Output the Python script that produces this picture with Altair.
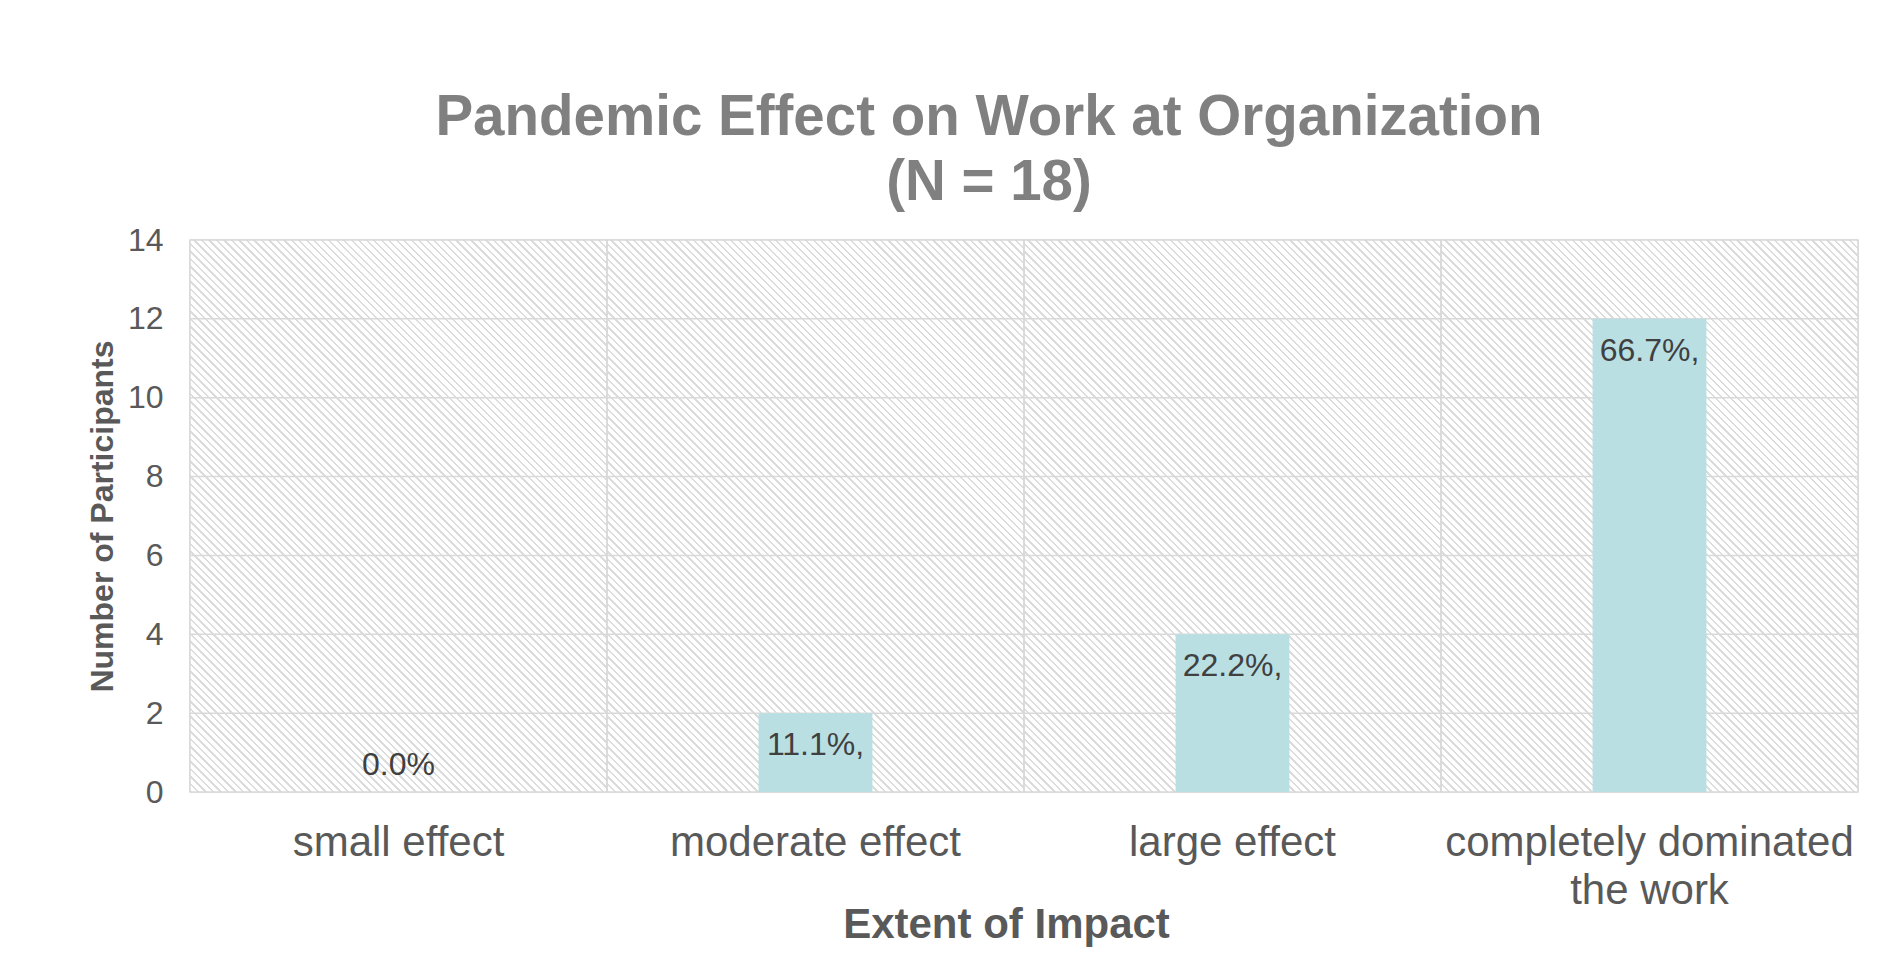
import altair as alt
import pandas as pd

# ---- data ----
categories = ["small effect", "moderate effect", "large effect", "completely dominated the work"]
counts = [0, 2, 4, 12]
pct_labels = ["0.0%", "11.1%,", "22.2%,", "66.7%,"]
y_ticks = [0, 2, 4, 6, 8, 10, 12, 14]
title_lines = ["Pandemic Effect on Work at Organization", "(N = 18)"]

df = pd.DataFrame({"category": categories, "count": counts, "label": pct_labels})
ticks_df = pd.DataFrame({"tick": y_ticks})

FONT = "Liberation Sans"
GRID = "#d9d9d9"
AXIS_TXT = "#595959"
HATCH = "#dcdcdc"

W, H = 1668, 552

# ---- diagonal hatch (style only): a striped linear gradient per category band ----
band_w = W / len(categories)
ratio = H / band_w
a = (1 + ratio) / (1 + ratio ** 2)
span = (band_w + H) / 2 ** 0.5
period = 5.3
stripe = 1.7
stops = []
k = 0
while k * period < span:
    s = k * period / span
    e = min((k * period + stripe) / span, 1.0)
    stops += [
        alt.GradientStop(offset=s, color="#ffffff"),
        alt.GradientStop(offset=s, color=HATCH),
        alt.GradientStop(offset=e, color=HATCH),
        alt.GradientStop(offset=e, color="#ffffff"),
    ]
    k += 1
hatch_fill = alt.LinearGradient(gradient="linear", x1=0, y1=1, x2=a, y2=1 - a * ratio, stops=stops)

x_axis = alt.Axis(
    title="Extent of Impact",
    labelAngle=0,
    labelFont=FONT,
    labelFontSize=42,
    labelColor=AXIS_TXT,
    labelPadding=30,
    labelLimit=0,
    labelLineHeight=48,
    labelExpr="datum.label == 'completely dominated the work' ? ['completely dominated', 'the work'] : datum.label",
    ticks=False,
    domain=False,
    grid=False,
    titleFont=FONT,
    titleFontSize=42,
    titleFontWeight="bold",
    titleColor=AXIS_TXT,
    titleBaseline="alphabetic",
    titleX=816,
    titleY=145,
)
y_axis = alt.Axis(
    title="Number of Participants",
    values=y_ticks,
    labelFont=FONT,
    labelFontSize=32,
    labelColor=AXIS_TXT,
    labelPadding=27,
    ticks=False,
    domain=False,
    grid=False,
    titleFont=FONT,
    titleFontSize=32,
    titleFontWeight="bold",
    titleColor=AXIS_TXT,
    titleBaseline="alphabetic",
    titleX=-78,
    titleY=276,
)
x_scale = alt.Scale(paddingInner=0, paddingOuter=0)
y_scale = alt.Scale(domain=[0, 14], nice=False)

base = alt.Chart(df)

hatch = base.mark_rect(color=hatch_fill).encode(
    x=alt.X("category:N", sort=categories, scale=x_scale, axis=x_axis),
    y=alt.datum(14, scale=y_scale, axis=y_axis),
    y2=alt.datum(0),
)

h_rules = alt.Chart(ticks_df).mark_rule(color=GRID, strokeWidth=1.5).encode(y=alt.Y("tick:Q"))
v_rules_l = base.mark_rule(color=GRID, strokeWidth=1.5).encode(
    x=alt.X("category:N", sort=categories, bandPosition=0)
)
v_rules_r = base.mark_rule(color=GRID, strokeWidth=1.5).encode(
    x=alt.X("category:N", sort=categories, bandPosition=1)
)

bars = base.mark_bar(color="#b9dfe3", width=alt.RelativeBandSize(0.273)).encode(
    x=alt.X("category:N", sort=categories), y=alt.Y("count:Q")
)

text_in = (
    base.transform_filter("datum.count > 0")
    .mark_text(baseline="alphabetic", dy=42, font=FONT, fontSize=32, color="#404040")
    .encode(x=alt.X("category:N", sort=categories), y=alt.Y("count:Q"), text="label:N")
)
text_zero = (
    base.transform_filter("datum.count == 0")
    .mark_text(baseline="alphabetic", dy=-17, font=FONT, fontSize=32, color="#404040")
    .encode(x=alt.X("category:N", sort=categories), y=alt.Y("count:Q"), text="label:N")
)

chart = (
    alt.layer(hatch, h_rules, v_rules_l, v_rules_r, bars, text_in, text_zero)
    .properties(
        width=W,
        height=H,
        title=alt.TitleParams(
            text=title_lines,
            font=FONT,
            fontSize=56.5,
            fontWeight="bold",
            color="#808080",
            lineHeight=65,
            offset=13,
            dx=-35,
            anchor="middle",
        ),
        autosize=alt.AutoSizeParams(type="none"),
        padding={"left": 182, "top": 232, "right": 20, "bottom": 165},
        background="white",
    )
    .configure_view(stroke=GRID, strokeWidth=1.5, fill="white")
)

chart.save("out.html", embed_options={"renderer": "svg", "actions": False})
